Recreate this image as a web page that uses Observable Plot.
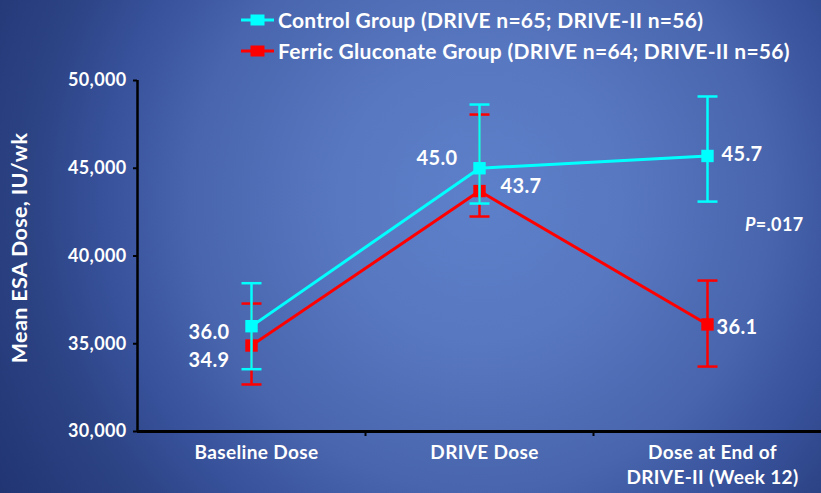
<!DOCTYPE html>
<html>
<head>
<meta charset="utf-8">
<script src="https://cdn.jsdelivr.net/npm/d3@7"></script>
<script src="https://cdn.jsdelivr.net/npm/@observablehq/plot@0.6"></script>
<style>
  html, body { margin: 0; padding: 0; }
  #chart {
    position: relative;
    width: 821px;
    height: 493px;
    overflow: hidden;
    background: radial-gradient(circle at 480px 200px,
      #5d80ca 0px, #5878c1 140px, #4865ad 290px, #37519a 380px,
      #2c4384 450px, #253a79 520px, #1d306e 600px);
    font-family: Lato, "Open Sans", sans-serif;
  }
  #chart svg { position: absolute; left: 0; top: 0; }
  #chart svg text { letter-spacing: 0.35px; }
  #legend {
    position: absolute;
    left: 241px;
    top: 4px;
    color: #fff;
    font: bold 21px Lato, sans-serif;
    letter-spacing: 0.3px;
    z-index: 2;
  }
  #legend .row { display: flex; align-items: center; height: 31px; white-space: nowrap; }
  #legend svg { position: static; flex: none; margin-right: 4px; }
</style>
</head>
<body>
<div id="chart"><div id="legend"></div></div>
<script>
// Mean ESA dose by study time point, with error bars
const categories = ["Baseline Dose", "DRIVE Dose", "Dose at End of\nDRIVE-II (Week 12)"];
const seriesNames = [
  "Control Group (DRIVE n=65; DRIVE-II n=56)",
  "Ferric Gluconate Group (DRIVE n=64; DRIVE-II n=56)"
];
const controlMean = [36000, 45000, 45700];
const controlLow  = [33550, 42990, 43100];
const controlHigh = [38450, 48630, 49090];
const ferricMean  = [34900, 43700, 36100];
const ferricLow   = [32680, 42250, 33700];
const ferricHigh  = [37290, 48060, 38600];
const yTicks = [30000, 35000, 40000, 45000, 50000];
const yLabel = "Mean ESA Dose, IU/wk";
const pValue = ".017";

const CYAN = "#00ffff";
const RED = "#ff0000";

const build = (mean, lo, hi) =>
  categories.map((c, i) => ({x: i + 0.5, mean: mean[i], lo: lo[i], hi: hi[i]}));
const control = build(controlMean, controlLow, controlHigh);
const ferric = build(ferricMean, ferricLow, ferricHigh);

// horizontal cap for error bars; half-width equals r
const cap = {
  draw(context, size) {
    const r = Math.sqrt(size / Math.PI);
    context.moveTo(-r, 0);
    context.lineTo(r, 0);
  }
};

const fmt = d3.format(".1f");
const labelStyle = {fill: "white", fontSize: 20, fontWeight: "bold"};

function seriesMarks(data, color) {
  return [
    Plot.ruleX(data, {x: "x", y1: "lo", y2: "hi", stroke: color, strokeWidth: 2.5}),
    Plot.dot(data, {x: "x", y: "lo", symbol: cap, r: 10, stroke: color, strokeWidth: 2.5, fill: "none"}),
    Plot.dot(data, {x: "x", y: "hi", symbol: cap, r: 10, stroke: color, strokeWidth: 2.5, fill: "none"}),
    Plot.line(data, {x: "x", y: "mean", stroke: color, strokeWidth: 3}),
    Plot.dot(data, {x: "x", y: "mean", symbol: "square", r: 7, fill: color, stroke: "none"})
  ];
}

function valueLabel(data, i, options) {
  return Plot.text([data[i]], {x: "x", y: "mean", text: d => fmt(d.mean / 1000), ...labelStyle, ...options});
}

const chart = Plot.plot({
  width: 821,
  height: 493,
  marginLeft: 137,
  marginRight: 0,
  marginTop: 80,
  marginBottom: 62,
  x: {domain: [0, categories.length]},
  y: {domain: [yTicks[0], yTicks[yTicks.length - 1]]},
  style: {background: "transparent", fontFamily: "Lato, sans-serif", color: "white", overflow: "visible"},
  marks: [
    Plot.axisY({ticks: yTicks, tickFormat: d3.format(","), tickSize: 4, tickPadding: 7,
      stroke: "black", strokeWidth: 2, fill: "white", fontSize: 18, fontWeight: "bold", label: null}),
    Plot.axisX({ticks: d3.range(1, categories.length), tickFormat: () => "", tickSize: 5,
      stroke: "black", strokeWidth: 2, label: null}),
    Plot.ruleX([0], {stroke: "black", strokeWidth: 2.5}),
    Plot.ruleY([yTicks[0]], {stroke: "black", strokeWidth: 3}),
    Plot.text(categories, {x: (d, i) => i + 0.5, frameAnchor: "bottom", lineAnchor: "top",
      dy: 10, dx: 5, lineHeight: 1.32, fill: "white", fontSize: 19, fontWeight: "bold"}),
    Plot.text([yLabel], {frameAnchor: "left", textAnchor: "middle", rotate: -90, dx: -117, dy: -8,
      fill: "white", fontSize: 21.5, fontWeight: "bold"}),
    ...seriesMarks(ferric, RED),
    ...seriesMarks(control, CYAN),
    valueLabel(control, 0, {textAnchor: "end", dx: -22, dy: 6}),
    valueLabel(control, 1, {textAnchor: "end", dx: -22, dy: -10}),
    valueLabel(control, 2, {textAnchor: "start", dx: 14, dy: -1}),
    valueLabel(ferric, 0, {textAnchor: "end", dx: -22, dy: 15}),
    valueLabel(ferric, 1, {textAnchor: "start", dx: 21, dy: -4}),
    valueLabel(ferric, 2, {textAnchor: "start", dx: 9, dy: 3}),
    Plot.text([`P=${pValue}`], {frameAnchor: "right", textAnchor: "end", dx: -18, dy: -31,
      fill: "white", fontSize: 18, fontWeight: "bold"})
  ]
});

// italic "P" in the significance note
d3.select(chart).selectAll("text").each(function() {
  if (this.textContent === `P=${pValue}`) {
    const t = d3.select(this);
    t.text(null);
    t.append("tspan").attr("font-style", "italic").text("P");
    t.append("tspan").text(`=${pValue}`);
  }
});

document.getElementById("chart").appendChild(chart);

// legend rows: line with square marker, then series name
const legend = d3.select("#legend");
[[seriesNames[0], CYAN], [seriesNames[1], RED]].forEach(([name, color]) => {
  const row = legend.append("div").attr("class", "row");
  const sw = row.append("svg").attr("width", 33).attr("height", 14);
  sw.append("line").attr("x1", 0).attr("x2", 33).attr("y1", 7).attr("y2", 7)
    .attr("stroke", color).attr("stroke-width", 3);
  sw.append("rect").attr("x", 9.5).attr("y", 1.5).attr("width", 14).attr("height", 11).attr("fill", color);
  row.append("span").text(name);
});
</script>
</body>
</html>
